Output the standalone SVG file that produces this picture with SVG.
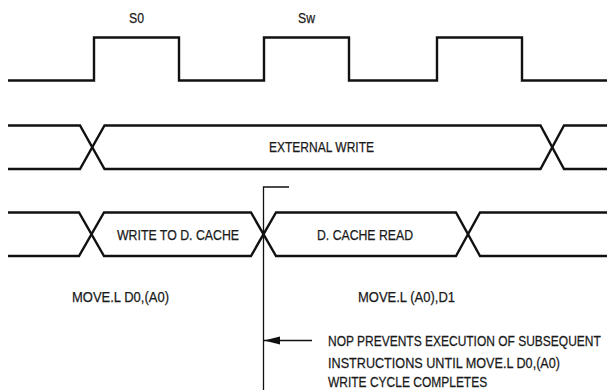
<svg xmlns="http://www.w3.org/2000/svg" width="607" height="390" viewBox="0 0 607 390">
<style>
.w{fill:none;stroke:#111;stroke-width:2.4;stroke-linejoin:miter}
.t{fill:none;stroke:#111;stroke-width:1.3}
text{font-family:"Liberation Sans",Arial,sans-serif;font-size:14.5px;fill:#1a1a1a;stroke:#1a1a1a;stroke-width:.25}
</style>
<defs><marker id="a" markerUnits="userSpaceOnUse" markerWidth="16" markerHeight="10" refX="16" refY="5" orient="auto"><path d="M0 1L16 5L0 9z" fill="#111"/></marker></defs>
<rect width="607" height="390" fill="#fff"/>
<g id="connectors">
<path class="w" d="M8 80.500H94V37.500H179V80.500H264V37.500H349V80.500H437V37.500H522V80.500H607"/>
<path class="w" d="M8 125.500H80L104.500 169H540.500L564 125.500H607"/>
<path class="w" d="M8 169H80L104.500 125.500H540.500L564 169H607"/>
<path class="w" d="M8 212.500H79L104 256H251L276 212.500H456L480 256H607"/>
<path class="w" d="M8 256H79L104 212.500H251L276 256H456L480 212.500H607"/>
<path class="t" d="M289 187H263.500V390"/>
<path class="t" d="M312 340.500H264" marker-end="url(#a)"/>
</g>
<g id="label-s0"><text x="129" y="23" textLength="15" lengthAdjust="spacingAndGlyphs">S0</text></g>
<g id="label-sw"><text x="298" y="23" textLength="17" lengthAdjust="spacingAndGlyphs">Sw</text></g>
<g id="external-write"><text x="269" y="152" textLength="105" lengthAdjust="spacingAndGlyphs">EXTERNAL WRITE</text></g>
<g id="write-cache"><text x="117" y="240" textLength="122" lengthAdjust="spacingAndGlyphs">WRITE TO D. CACHE</text></g>
<g id="cache-read"><text x="317" y="240" textLength="96" lengthAdjust="spacingAndGlyphs">D. CACHE READ</text></g>
<g id="move-write"><text x="72" y="302" textLength="97" lengthAdjust="spacingAndGlyphs">MOVE.L D0,(A0)</text></g>
<g id="move-read"><text x="358" y="302" textLength="97" lengthAdjust="spacingAndGlyphs">MOVE.L (A0),D1</text></g>
<g id="note">
<text transform="translate(328 346) scale(.8 1)" textLength="341" lengthAdjust="spacingAndGlyphs">NOP PREVENTS EXECUTION OF SUBSEQUENT</text>
<text transform="translate(328 367.500) scale(.8 1)" textLength="290" lengthAdjust="spacingAndGlyphs">INSTRUCTIONS UNTIL MOVE.L D0,(A0)</text>
<text transform="translate(328 387) scale(.8 1)" textLength="199" lengthAdjust="spacingAndGlyphs">WRITE CYCLE COMPLETES</text>
</g>
</svg>
